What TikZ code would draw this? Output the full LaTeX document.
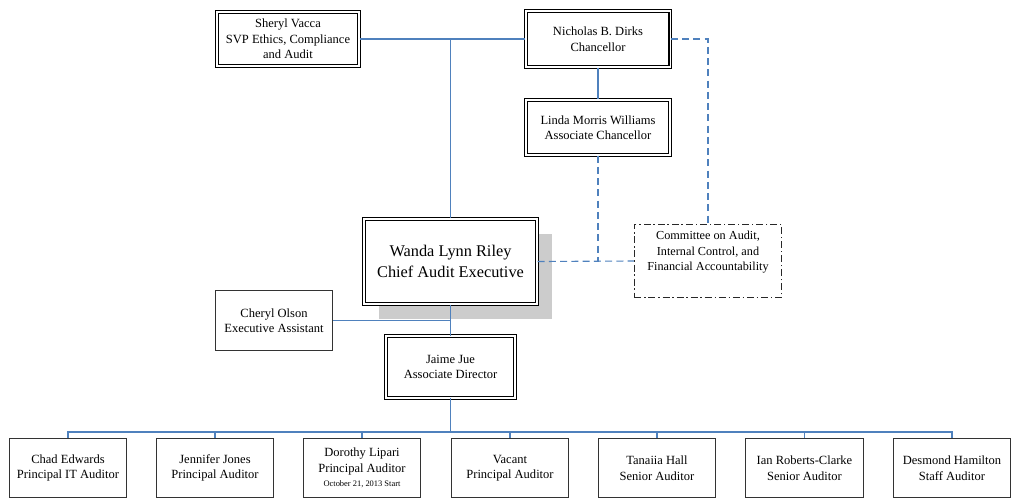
\documentclass[tikz,border=0pt]{standalone}
\usepackage{fontspec}
\setmainfont{Liberation Serif}
\usetikzlibrary{
    arrows.meta,
    calc,
    positioning,
    shadows
}
\definecolor{orgblue}{RGB}{79,129,189}
\definecolor{shadowgray}{RGB}{204,204,204}
\definecolor{framegray}{RGB}{40,40,40}
\tikzset{
    % Box styles
    head box/.style={
        draw=black,
        fill=white,
        double,
        double distance=1.3pt,
        line width=0.75pt,
        rectangle,
        align=center,
        font=\fontsize{8.9}{11}\selectfont
    },
    staff box/.style={
        draw=black!80,
        fill=white,
        line width=0.7pt,
        rectangle,
        minimum width=2.93cm,
        minimum height=1.48cm,
        align=center,
        font=\fontsize{8.9}{11}\selectfont
    },
    committee box/.style={
        draw=framegray,
        line width=0.75pt,
        dash pattern=on 5pt off 2pt on 1pt off 2pt,
        rectangle,
        minimum width=3.68cm,
        minimum height=1.83cm
    },
    % Line styles
    report line/.style={
        orgblue,
        line width=0.8pt
    },
    advisory line/.style={
        orgblue,
        line width=0.8pt,
        dash pattern=on 5pt off 3pt
    }
}

\begin{document}
\begin{tikzpicture}[x=0.025cm, y=-0.025cm]
        \useasboundingbox (0,0) rectangle (1012,501);

        % Top level
        \node[head box, minimum width=3.55cm, minimum height=1.35cm] (sheryl) at (288,39)
            {Sheryl Vacca\\SVP Ethics, Compliance\\and Audit};
        \node[head box, minimum width=3.62cm, minimum height=1.4cm] (dirks) at (598,39)
            {Nicholas B. Dirks\\Chancellor};
        \node[head box, minimum width=3.6cm, minimum height=1.38cm] (linda) at (598,127.5)
            {Linda Morris Williams\\Associate Chancellor};

        % Chief audit executive and committee
        \node[head box, minimum width=4.33cm, minimum height=2.13cm,
              font=\fontsize{11.6}{15}\selectfont,
              general shadow={fill=shadowgray, shadow xshift=10.6pt, shadow yshift=-10.6pt}]
            (wanda) at (450.5,261.5) {Wanda Lynn Riley\\Chief Audit Executive};
        \node[committee box] (cmte) at (708,261) {};
        \node[align=center, font=\fontsize{8.7}{11}\selectfont] (cmtetext) at (708,252.5)
            {Committee on Audit,\\Internal Control, and\\Financial Accountability};

        % Direct staff
        \node[staff box] (olson) at (274,320.5) {Cheryl Olson\\Executive Assistant};
        \node[head box, minimum width=3.23cm, minimum height=1.53cm] (jaime) at (450.5,367)
            {Jaime Jue\\Associate Director};

        % Audit staff
        \foreach \i/\x/\name/\job in {
            1/68/Chad Edwards/Principal IT Auditor,
            2/215/Jennifer Jones/Principal Auditor,
            4/510/Vacant/Principal Auditor,
            5/657/Tanaiia Hall/Senior Auditor,
            6/804.5/Ian Roberts-Clarke/Senior Auditor,
            7/952/Desmond Hamilton/Staff Auditor} {
            \node[staff box] (aud\i) at (\x,468) {\name\\\job};
        }
        \node[staff box] (aud3) at (362,468)
            {Dorothy Lipari\\Principal Auditor\\[-1pt]{\fontsize{6}{7}\selectfont October 21, 2013 Start}};

        % Reporting lines
        \draw[report line] (sheryl.east) -- (dirks.west);
        \draw[report line] (wanda.north) -- (wanda.north |- sheryl.east);
        \draw[report line] (dirks.south) -- (linda.north);
        \draw[report line] (wanda.south) -- (jaime.north);
        \draw[report line] (olson.east) -- (wanda.south |- olson.east);

        % Staff bus
        \coordinate (bus) at (450.5,432);
        \draw[report line] (jaime.south) -- (bus);
        \foreach \i in {1,...,7} {
            \draw[report line] (bus) -| (aud\i.north);
        }

        % Committee links
        \draw[advisory line] (dirks.east) -| (cmte.north);
        \draw[advisory line] (wanda.east) -- (cmte.west);
        \draw[advisory line] (linda.south) -- (linda.south |- wanda.east);
    \end{tikzpicture}
\end{document}
